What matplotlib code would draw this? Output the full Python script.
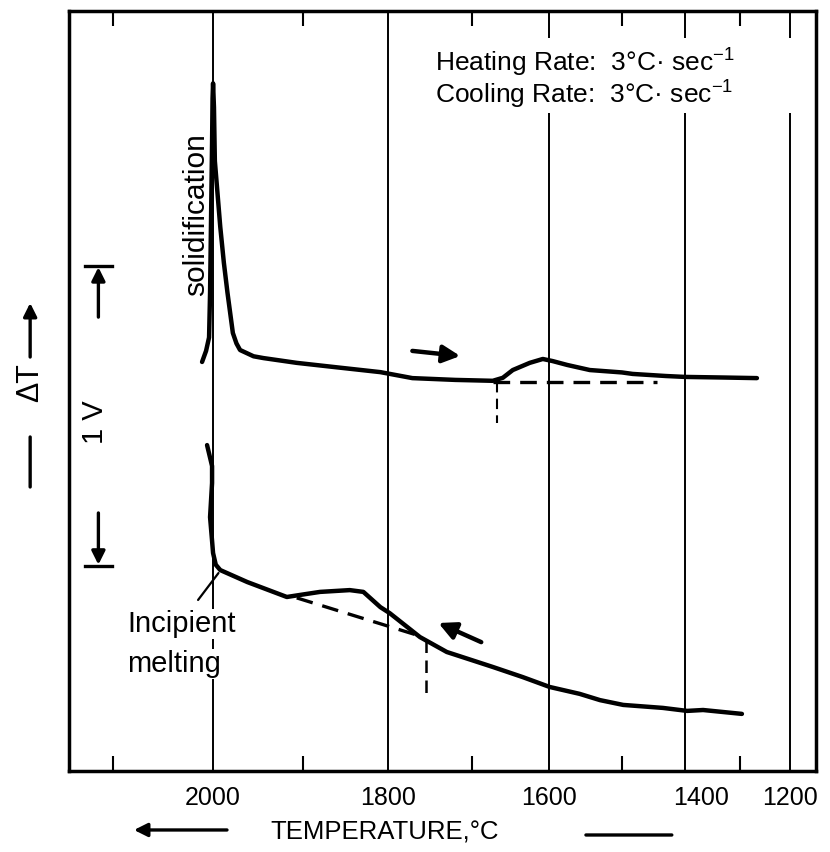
import numpy as np
import matplotlib
import matplotlib.pyplot as plt
from matplotlib.patches import Rectangle
from matplotlib.transforms import ScaledTranslation

plt.rcParams['font.family'] = ['Liberation Sans', 'DejaVu Sans']
plt.rcParams['mathtext.fontset'] = 'custom'
plt.rcParams['mathtext.rm'] = 'Liberation Sans'

# temperature axis of the chart paper is not linear: calibration of the scale
cal_temp = np.array([1100, 1200, 1300, 1400, 1500, 1600, 1700, 1800, 1900, 2000, 2100, 2200])
cal_pos = np.array([835, 790, 740, 685, 622, 549, 472, 388, 303, 213, 113, 8])

def fwd(t):
    return np.interp(t, cal_temp, -cal_pos)

def inv(v):
    return np.interp(v, -cal_pos, cal_temp)

# cooling trace (solidification peak), temperature in C, signal in V
cool_temp = [2011, 2007, 2004, 2003, 2002, 2001, 2000.5, 2000, 1999, 1998, 1995, 1992, 1988,
             1984, 1978, 1974, 1970, 1955, 1944, 1907, 1860, 1809, 1771, 1720, 1673, 1660,
             1647, 1625, 1608, 1595, 1575, 1544, 1500, 1483, 1430, 1400, 1330, 1266]
cool_sig = [1.368, 1.405, 1.45, 1.60, 1.85, 2.10, 2.25, 2.30, 2.22, 2.04, 1.93, 1.82, 1.70,
            1.60, 1.465, 1.43, 1.408, 1.387, 1.381, 1.365, 1.350, 1.334, 1.314, 1.308, 1.305, 1.315,
            1.341, 1.365, 1.378, 1.371, 1.358, 1.341, 1.333, 1.328, 1.321, 1.318, 1.316, 1.314]

# heating trace (incipient melting)
heat_temp = [2006, 2001, 2001, 2003, 2001, 2000, 1997, 1992, 1962, 1918, 1903, 1880, 1845,
             1829, 1809, 1798, 1762, 1730, 1673, 1634, 1599, 1558, 1530, 1498, 1435, 1396,
             1367, 1296]
heat_sig = [1.090, 1.02, 0.963, 0.849, 0.77, 0.729, 0.69, 0.672, 0.632, 0.582, 0.589, 0.599, 0.605,
            0.599, 0.548, 0.528, 0.448, 0.398, 0.348, 0.314, 0.281, 0.258, 0.237, 0.221, 0.211, 0.201,
            0.204, 0.191]

# extrapolated baselines and onset markers
cool_base_temp = [1673, 1444]
cool_base_sig = [1.301, 1.301]
cool_onset_temp = [1668, 1668]
cool_onset_sig = [1.301, 1.164]
heat_base_temp = [1907, 1758]
heat_base_sig = [0.579, 0.448]
heat_onset_temp = [1755, 1755]
heat_onset_sig = [0.438, 0.254]

major_t = [2000, 1800, 1600, 1400, 1200]
minor_t = [2100, 1900, 1700, 1500, 1300]
label_shift = [0, 0, 0, 16, 0]   # hand-lettered labels sit a bit off the lines (px)

fig = plt.figure(figsize=(8.3, 8.52), dpi=100)
ax = fig.add_axes([69 / 830, 81 / 852, 747 / 830, 760 / 852])
ax.set_xscale('function', functions=(fwd, inv))
ax.set_xlim(2142, 1142)
ax.set_ylim(0, 760 / 299)
ax.set_axisbelow(True)

ax.set_xticks(major_t)
ax.set_xticklabels([str(t) for t in major_t])
ax.set_xticks(minor_t, minor=True)
ax.set_yticks([])
ax.tick_params(axis='x', which='major', length=0, pad=11, labelsize=18)
ax.tick_params(axis='x', which='minor', direction='in', length=11, width=1.5, top=True, bottom=True)
ax.grid(axis='x', which='major', color='black', lw=1.4)
for lab, dx in zip(ax.get_xticklabels(), label_shift):
    lab.set_transform(lab.get_transform() + ScaledTranslation(dx / 100, 0, fig.dpi_scale_trans))
for s in ax.spines.values():
    s.set_linewidth(2.5)

# blank area behind the rates text
ax.add_patch(Rectangle((0.483, 0.866), 0.496, 0.098, transform=ax.transAxes,
                       facecolor='white', edgecolor='none', zorder=1))

ax.plot(cool_temp, cool_sig, color='black', lw=3.2, solid_capstyle='round', zorder=3)
ax.plot(heat_temp, heat_sig, color='black', lw=3.2, solid_capstyle='round', zorder=3)
ax.plot(cool_base_temp, cool_base_sig, 'k--', lw=2.4, dashes=(5, 3), zorder=3)
ax.plot(cool_onset_temp, cool_onset_sig, 'k--', lw=1.5, dashes=(5, 3), zorder=3)
ax.plot(heat_base_temp, heat_base_sig, 'k--', lw=2.4, dashes=(5, 3), zorder=3)
ax.plot(heat_onset_temp, heat_onset_sig, 'k--', lw=1.8, dashes=(5, 3), zorder=3)

arr = dict(arrowstyle='-|>', lw=3.2, color='black', mutation_scale=26, shrinkA=0, shrinkB=0)
ax.annotate('', xy=(1714, 1.388), xytext=(1771, 1.405), arrowprops=arr)
ax.annotate('', xy=(1740, 0.495), xytext=(1688, 0.431), arrowprops=arr)

# labels inside the plot
ax.text(2017, 1.86, 'solidification', rotation=90, ha='center', va='center', fontsize=21.5)
ax.text(2086, 0.465, 'Incipient', ha='left', va='baseline', fontsize=21,
        bbox=dict(facecolor='white', edgecolor='none', pad=1))
ax.text(2086, 0.331, 'melting', ha='left', va='baseline', fontsize=21,
        bbox=dict(facecolor='white', edgecolor='none', pad=1))
ax.annotate('', xy=(1994, 0.662), xytext=(2015, 0.572),
            arrowprops=dict(arrowstyle='-', lw=1.6, color='black', shrinkA=0, shrinkB=0))

ax.text(0.49, 0.922, 'Heating Rate:  3°C· sec$^{-1}$', transform=ax.transAxes,
        ha='left', va='baseline', fontsize=19)
ax.text(0.49, 0.880, 'Cooling Rate:  3°C· sec$^{-1}$', transform=ax.transAxes,
        ha='left', va='baseline', fontsize=19)

# 1 V scale bar
sb = dict(arrowstyle='-|>', lw=2.4, color='black', mutation_scale=20, shrinkA=0, shrinkB=0)
ax.annotate('', xy=(2114, 1.685), xytext=(2114, 1.518), arrowprops=sb)
ax.annotate('', xy=(2114, 0.690), xytext=(2114, 0.863), arrowprops=sb)
ax.plot([2127, 2101], [1.69, 1.69], color='black', lw=2.4)
ax.plot([2127, 2101], [0.685, 0.685], color='black', lw=2.4)
ax.text(2117, 1.167, '1 V', rotation=90, ha='center', va='center', fontsize=21)

# Delta T label on the left, outside the frame
ax.text(-0.052, 0.5105, 'ΔT', transform=ax.transAxes, rotation=90,
        ha='center', va='center', fontsize=22)
ax.annotate('', xy=(-0.052, 0.6158), xytext=(-0.052, 0.5447), xycoords='axes fraction',
            textcoords='axes fraction', annotation_clip=False, arrowprops=sb)
ax.annotate('', xy=(-0.052, 0.3737), xytext=(-0.052, 0.4395), xycoords='axes fraction',
            textcoords='axes fraction', annotation_clip=False,
            arrowprops=dict(arrowstyle='-', lw=2.4, color='black', shrinkA=0, shrinkB=0))

# temperature label with direction marks
ax.text(0.423, -0.0803, 'TEMPERATURE,°C', transform=ax.transAxes,
        ha='center', va='center', fontsize=18.5)
ax.annotate('', xy=(0.087, -0.0776), xytext=(0.2115, -0.0776), xycoords='axes fraction',
            textcoords='axes fraction', annotation_clip=False, arrowprops=sb)
ax.annotate('', xy=(0.692, -0.0842), xytext=(0.807, -0.0842), xycoords='axes fraction',
            textcoords='axes fraction', annotation_clip=False,
            arrowprops=dict(arrowstyle='-', lw=2.4, color='black', shrinkA=0, shrinkB=0))

fig.savefig('out.png', dpi=100)
